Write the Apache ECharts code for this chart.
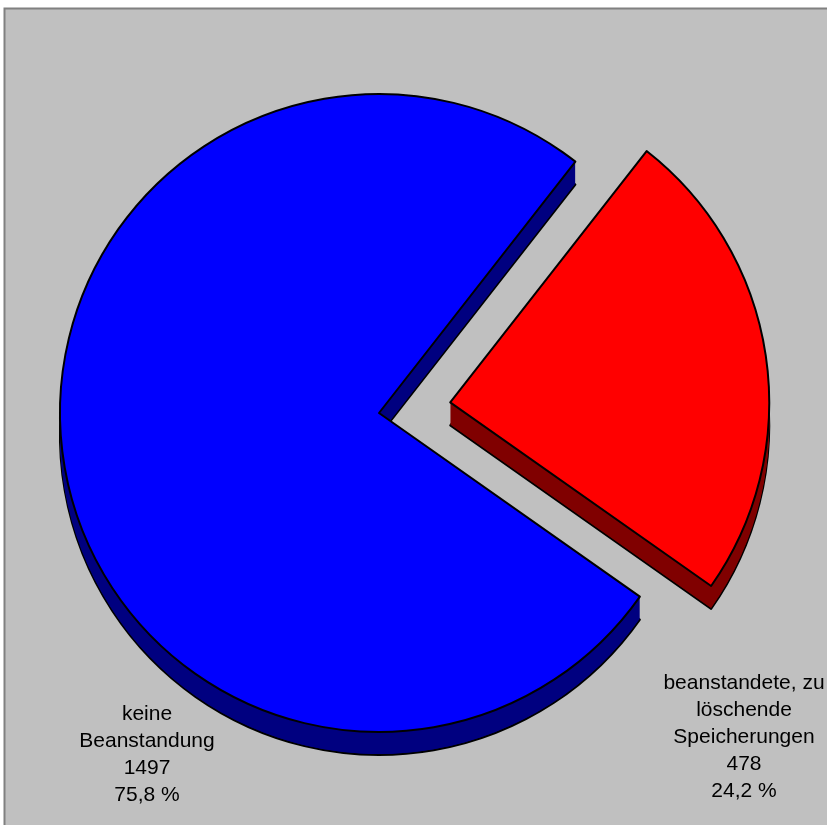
<!DOCTYPE html>
<html>
<head>
<meta charset="utf-8">
<script src="https://cdn.jsdelivr.net/npm/echarts@6/dist/echarts.min.js"></script>
<style>
html,body{margin:0;padding:0;background:#ffffff;}
#chart{width:827px;height:825px;}
</style>
</head>
<body>
<div id="chart"></div>
<script>
// ---- data ----
var categories = ['beanstandete, zu\nlöschende\nSpeicherungen', 'keine\nBeanstandung'];
var values = [478, 1497];
var topColors = ['#FF0000', '#0000FF'];
var sideColors = ['#800000', '#000080'];

var total = values.reduce(function (a, b) { return a + b; }, 0);
function pct(v) { return (v / total * 100).toFixed(1).replace('.', ',') + ' %'; }

var CX = 379, CY = 413, R = 319, DEPTH = 23;
var labelPos = [{ x: 744, y: 737 }, { x: 147, y: 755 }];

function makeData(colors, withBorder) {
  return categories.map(function (c, i) {
    return {
      name: c,
      value: values[i],
      selected: i === 0,
      itemStyle: {
        color: colors[i],
        borderColor: withBorder ? '#000000' : colors[i],
        borderWidth: withBorder ? 2 : 0
      }
    };
  });
}

function layer(dy, colors, withBorder) {
  return {
    type: 'pie',
    center: [CX, CY + dy],
    radius: R,
    startAngle: 52,
    clockwise: true,
    selectedMode: 'single',
    selectedOffset: 72,
    silent: true,
    animation: false,
    emphasis: { disabled: true },
    labelLine: { show: false },
    label: { show: false },
    data: makeData(colors, withBorder)
  };
}

var series = [];
series.push(layer(DEPTH, sideColors, true));
for (var d = DEPTH - 1; d >= 1; d--) series.push(layer(d, sideColors, false));
series.push(layer(0, topColors, true));

var labels = categories.map(function (c, i) {
  return {
    type: 'text',
    z: 100,
    silent: true,
    x: labelPos[i].x,
    y: labelPos[i].y,
    style: {
      text: c + '\n' + values[i] + '\n' + pct(values[i]),
      fill: '#000000',
      font: '21px "Liberation Sans", Arial, sans-serif',
      lineHeight: 27,
      align: 'center',
      verticalAlign: 'middle'
    }
  };
});

var chart = echarts.init(document.getElementById('chart'), null, { renderer: 'canvas' });
chart.setOption({
  backgroundColor: '#ffffff',
  animation: false,
  graphic: [{
    type: 'rect',
    z: -10,
    silent: true,
    shape: { x: 4.5, y: 8.5, width: 900, height: 900 },
    style: { fill: '#C0C0C0', stroke: '#808080', lineWidth: 2 }
  }].concat(labels),
  series: series
});
</script>
</body>
</html>
